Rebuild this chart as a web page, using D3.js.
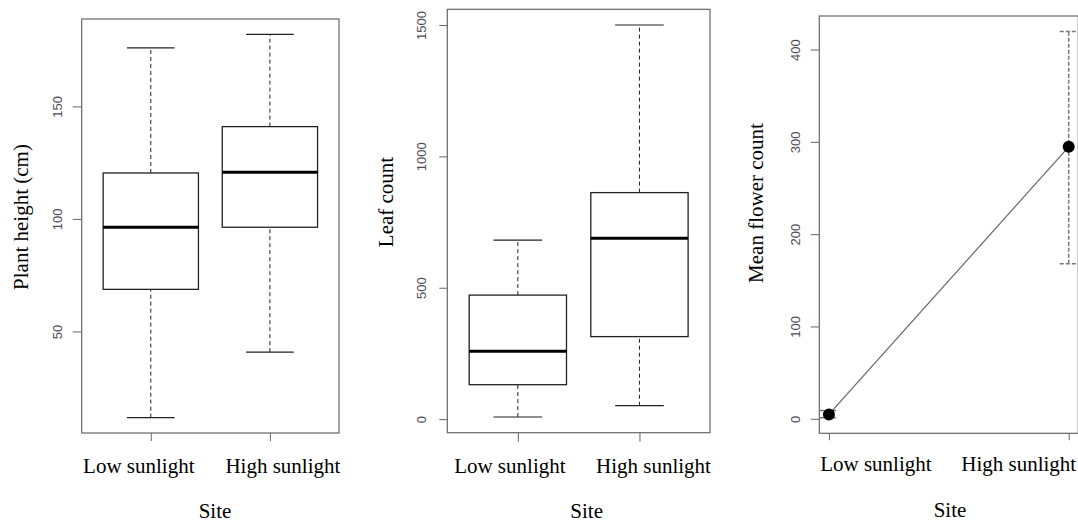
<!DOCTYPE html>
<html>
<head>
<meta charset="utf-8">
<script src="https://cdn.jsdelivr.net/npm/d3@7/dist/d3.min.js"></script>
<style>
  body { margin: 0; background: #fff; }
  svg { display: block; }
</style>
</head>
<body>
<div id="chart"></div>
<script>
var width = 1078, height = 525;

// data
var sites = ["Low sunlight", "High sunlight"];
// [lower whisker, Q1, median, Q3, upper whisker]
var heightStats = [[11.7, 68.7, 96.3, 120.4, 176], [40.8, 96.3, 120.7, 141, 182]];
var leafStats = [[8, 131, 258, 472, 681], [51, 314, 688, 862, 1500]];
var flowerMean = [4.7, 294.6];
var flowerLower = [1, 168];
var flowerUpper = [9, 419.6];

var heightTicks = [50, 100, 150];
var leafTicks = [0, 500, 1000, 1500];
var flowerTicks = [0, 100, 200, 300, 400];

var svg = d3.select("#chart").append("svg").attr("width", width).attr("height", height);

var serif = "'Liberation Serif', 'Times New Roman', serif";
var sans = "'Liberation Sans', Arial, sans-serif";

// R style 4% padding
function pad(lo, hi) {
  var d = (hi - lo) * 0.04;
  return [lo - d, hi + d];
}

function frame(p) {
  var g = svg.append("g");
  // y axis
  var ya = g.append("g").attr("transform", "translate(" + p.left + ",0)")
    .call(d3.axisLeft(p.y).tickValues(p.ticks).tickSize(p.tickLen).tickFormat(d3.format("d")));
  ya.select(".domain").remove();
  ya.selectAll(".tick line").attr("stroke", "#666");
  ya.selectAll(".tick text")
    .attr("x", null).attr("dy", null)
    .attr("transform", "translate(" + (-(p.left - p.tickX)) + ",0) rotate(-90)")
    .attr("text-anchor", "middle")
    .attr("dominant-baseline", "central")
    .style("font-family", sans).style("font-size", "13px").attr("fill", "#4d4d55");

  // x ticks
  var xa = g.append("g").attr("transform", "translate(0," + p.bottom + ")")
    .call(d3.axisBottom(p.x).tickValues([1, 2]).tickSize(p.xTickLen).tickFormat(""));
  xa.select(".domain").remove();
  xa.selectAll(".tick line").attr("stroke", "#666");

  sites.forEach(function(s, i) {
    g.append("text")
      .attr("x", p.x(i + 1) + p.labelShift[i])
      .attr("y", p.labelY)
      .attr("text-anchor", "middle")
      .style("font-family", serif).style("font-size", "21px")
      .text(s);
  });

  g.append("text")
    .attr("x", p.siteX).attr("y", p.siteY)
    .attr("text-anchor", "middle")
    .style("font-family", serif).style("font-size", "21px")
    .text("Site");

  g.append("text")
    .attr("transform", "translate(" + p.titleX + "," + p.titleY + ") rotate(-90)")
    .attr("text-anchor", "middle")
    .style("font-family", serif).style("font-size", "21px")
    .text(p.title);

  g.append("rect")
    .attr("x", p.left).attr("y", p.top)
    .attr("width", p.right - p.left).attr("height", p.bottom - p.top)
    .attr("fill", "none").attr("stroke", "#666").attr("stroke-width", 1.2);
  return g;
}

function boxplot(p, stats) {
  var g = svg.append("g");
  stats.forEach(function(s, i) {
    var cx = p.x(i + 1);
    var bw = p.x(1.4) - p.x(1);
    var cw = p.x(1.2) - p.x(1);
    // whiskers
    g.append("line").attr("x1", cx).attr("x2", cx).attr("y1", p.y(s[0])).attr("y2", p.y(s[1]))
      .attr("stroke", "#222").attr("stroke-dasharray", "4,3");
    g.append("line").attr("x1", cx).attr("x2", cx).attr("y1", p.y(s[3])).attr("y2", p.y(s[4]))
      .attr("stroke", "#222").attr("stroke-dasharray", "4,3");
    [s[0], s[4]].forEach(function(v) {
      g.append("line").attr("x1", cx - cw).attr("x2", cx + cw).attr("y1", p.y(v)).attr("y2", p.y(v))
        .attr("stroke", "#222").attr("stroke-width", 1.2);
    });
    g.append("rect")
      .attr("x", cx - bw).attr("width", 2 * bw)
      .attr("y", p.y(s[3])).attr("height", p.y(s[1]) - p.y(s[3]))
      .attr("fill", "#fff").attr("stroke", "#222").attr("stroke-width", 1.3);
    g.append("line").attr("x1", cx - bw).attr("x2", cx + bw).attr("y1", p.y(s[2])).attr("y2", p.y(s[2]))
      .attr("stroke", "#000").attr("stroke-width", 3);
  });
}

// panel 1: plant height
var p1 = {left: 81.7, right: 339, top: 19, bottom: 433, tickLen: 9, xTickLen: 8, tickX: 58,
  ticks: heightTicks, labelShift: [-12, 13], labelY: 473, siteX: 215, siteY: 518,
  titleX: 28, titleY: 217, title: "Plant height (cm)"};
p1.x = d3.scaleLinear().domain(pad(0.5, 2.5)).range([p1.left, p1.right]);
p1.y = d3.scaleLinear().domain(pad(d3.min(heightStats, d => d[0]), d3.max(heightStats, d => d[4]))).range([p1.bottom, p1.top]);
frame(p1);
boxplot(p1, heightStats);

// panel 2: leaf count
var p2 = {left: 447.3, right: 710, top: 9.3, bottom: 432.7, tickLen: 8, xTickLen: 9, tickX: 421.7,
  ticks: leafTicks, labelShift: [-8, 14], labelY: 473, siteX: 586.7, siteY: 518,
  titleX: 393, titleY: 202, title: "Leaf count"};
p2.x = d3.scaleLinear().domain(pad(0.5, 2.5)).range([p2.left, p2.right]);
p2.y = d3.scaleLinear().domain(pad(d3.min(leafStats, d => d[0]), d3.max(leafStats, d => d[4]))).range([p2.bottom, p2.top]);
frame(p2);
boxplot(p2, leafStats);

// panel 3: mean flower count
var p3 = {left: 819.3, right: 1078.3, top: 16, bottom: 433.3, tickLen: 8.5, xTickLen: 7, tickX: 795,
  ticks: flowerTicks, labelShift: [47, -50], labelY: 471, siteX: 950, siteY: 517,
  titleX: 763, titleY: 203, title: "Mean flower count"};
p3.x = d3.scaleLinear().domain(pad(1, 2)).range([p3.left, p3.right]);
p3.y = d3.scaleLinear().domain(pad(d3.min(flowerLower), d3.max(flowerUpper))).range([p3.bottom, p3.top]);
frame(p3);

var g3 = svg.append("g");
flowerMean.forEach(function(m, i) {
  var cx = p3.x(i + 1);
  g3.append("line").attr("x1", cx).attr("x2", cx)
    .attr("y1", p3.y(flowerLower[i])).attr("y2", p3.y(flowerUpper[i]))
    .attr("stroke", "#777").attr("stroke-width", 1.5).attr("stroke-dasharray", "4,2");
  [flowerLower[i], flowerUpper[i]].forEach(function(v) {
    g3.append("line").attr("x1", cx - 9).attr("x2", cx + 9)
      .attr("y1", p3.y(v)).attr("y2", p3.y(v))
      .attr("stroke", "#777").attr("stroke-width", 1.5).attr("stroke-dasharray", "4,2");
  });
});
g3.append("path")
  .datum(flowerMean)
  .attr("d", d3.line().x((d, i) => p3.x(i + 1)).y(d => p3.y(d)))
  .attr("fill", "none").attr("stroke", "#666").attr("stroke-width", 1.2);
g3.selectAll("circle").data(flowerMean).enter().append("circle")
  .attr("cx", (d, i) => p3.x(i + 1)).attr("cy", d => p3.y(d))
  .attr("r", 6).attr("fill", "#000");
</script>
</body>
</html>
